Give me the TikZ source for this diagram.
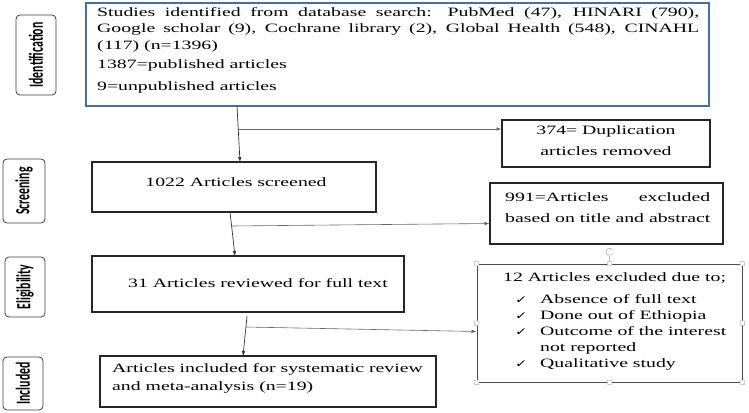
\documentclass[tikz,border=0pt]{standalone}
\usepackage{fontspec}
\setmainfont{Liberation Serif}[FakeStretch=1.55]
\newfontfamily\sidefont{Carlito}
\newfontfamily\symfont{DejaVu Sans}[FakeStretch=1.4]
\usetikzlibrary{arrows.meta}
\newcommand{\mainsz}{\fontsize{12.75}{16}\selectfont}
\newcommand{\sidelabel}[1]{\scalebox{1}[1.7]{\sidefont\bfseries\fontsize{11.8}{13}\selectfont #1}}
\newcommand{\ck}{{\symfont\fontsize{10.5}{12}\selectfont ✓}}
\begin{document}
\begin{tikzpicture}[x=1pt,y=-1pt,
  box/.style={draw=black!85, line width=1.2pt, inner sep=0pt, outer sep=0pt},
  phase/.style={draw=black!75, rounded corners=4pt, line width=0.8pt, inner sep=0pt},
  txt/.style={anchor=base west, inner sep=0pt, font=\mainsz},
  ctxt/.style={anchor=base, inner sep=0pt, font=\mainsz},
  conn/.style={draw=black!80, line width=0.7pt},
  branch/.style={draw=black!60, line width=0.6pt},
  arr/.style={-{Latex[length=5pt,width=3.6pt]}},
  handle/.style={draw=gray!60, fill=white, minimum size=4.5pt, inner sep=0pt, line width=0.5pt, rounded corners=0.8pt}
]
\useasboundingbox[fill=white] (0,0) rectangle (749,412);
\definecolor{wordblue}{RGB}{65,113,156}

% phase labels
\node[phase, minimum width=40pt, minimum height=80pt] (pid) at (36,55) {};
\node[rotate=90, inner sep=0pt] at (pid.center) {\sidelabel{Identification}};
\node[phase, minimum width=42pt, minimum height=64pt] (psc) at (24,191) {};
\node[rotate=90, inner sep=0pt] at (psc.center) {\sidelabel{Screening}};
\node[phase, minimum width=40pt, minimum height=60pt] (pel) at (25,287) {};
\node[rotate=90, inner sep=0pt] at (pel.center) {\sidelabel{Eligibility}};
\node[phase, minimum width=40pt, minimum height=53pt] (pin) at (23,383.5) {};
\node[rotate=90, inner sep=0pt] at (pin.center) {\sidelabel{Included}};

% boxes
\node[box, draw=wordblue, minimum width=623pt, minimum height=103pt] (ident) at (397.5,54.5) {};
\node[box, minimum width=208pt, minimum height=47pt] (dup) at (606,143.5) {};
\node[box, minimum width=284pt, minimum height=50pt] (scr) at (234,187) {};
\node[box, minimum width=233pt, minimum height=61pt] (exc1) at (606.5,213.5) {};
\node[box, minimum width=312pt, minimum height=56pt] (full) at (248,284) {};
\node[draw=black!70, line width=0.9pt, minimum width=265pt, minimum height=118pt, inner sep=0pt] (exc2) at (609.5,323) {};
\node[box, minimum width=336pt, minimum height=51pt] (incl) at (268,381.5) {};

% texts
\node[txt] at (97,17) {\makebox[602pt][s]{Studies identified from database search: PubMed (47), HINARI (790),}};
\node[txt] at (97,33) {\makebox[602pt][s]{Google scholar (9), Cochrane library (2), Global Health (548), CINAHL}};
\node[txt] at (97,50) {(117) (n=1396)};
\node[txt] at (97,68.5) {1387=published articles};
\node[txt] at (97,90.5) {9=unpublished articles};

\node[ctxt] at (606,134) {374= Duplication};
\node[ctxt] at (606,155) {articles removed};

\node[ctxt] at (236,186) {1022 Articles screened};

\node[txt] at (505,201.5) {\makebox[205pt][s]{991=Articles excluded}};
\node[txt] at (505,222.5) {based on title and abstract};

\node[txt] at (128,287) {31 Articles reviewed for full text};

\node[txt] at (503,281) {12 Articles excluded due to;};
\node[txt] at (515,303) {\ck};
\node[txt] at (540,303) {Absence of full text};
\node[txt] at (515,319) {\ck};
\node[txt] at (540,319) {Done out of Ethiopia};
\node[txt] at (515,335) {\ck};
\node[txt] at (540,335) {Outcome of the interest};
\node[txt] at (540,351) {not reported};
\node[txt] at (515,367) {\ck};
\node[txt] at (540,367) {Qualitative study};

\node[txt] at (112,372) {Articles included for systematic review};
\node[txt] at (112,390) {and meta-analysis (n=19)};

% selection handles on exc2
\foreach \p in {north west,north,north east,west,east,south west,south,south east}
  \node[handle] at (exc2.\p) {};
\draw[gray!60, line width=0.5pt] (exc2.north) ++(0,-2.3) -- ++(0,-5);
\draw[gray!60, line width=0.6pt] (612.5,250) arc[start angle=30, end angle=330, radius=3.5pt];

% connectors
\coordinate (a1s) at (237,106);
\coordinate (a1e) at (240,162);
\coordinate (b1s) at (238.2,129);
\coordinate (b1e) at (501.5,129);
\draw[conn, arr] (a1s) -- (a1e);
\draw[branch, arr] (b1s) -- (b1e);

\coordinate (a2s) at (230,212);
\coordinate (a2e) at (235,256);
\coordinate (b2s) at (231.3,226);
\coordinate (b2e) at (489.5,223.5);
\draw[conn, arr] (a2s) -- (a2e);
\draw[branch, arr] (b2s) -- (b2e);

\coordinate (a3s) at (247,316);
\coordinate (a3e) at (243,356);
\coordinate (b3s) at (246,327);
\coordinate (b3e) at (476.5,331.5);
\draw[conn, arr] (a3s) -- (a3e);
\draw[branch, arr] (b3s) -- (b3e);
\end{tikzpicture}
\end{document}
